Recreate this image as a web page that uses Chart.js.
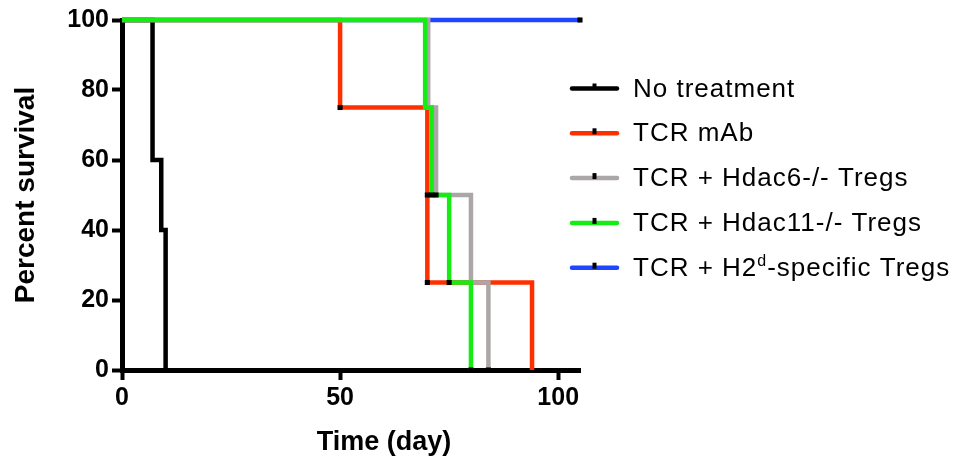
<!DOCTYPE html>
<html>
<head>
<meta charset="utf-8">
<script src="https://cdn.jsdelivr.net/npm/chart.js@4/dist/chart.umd.min.js"></script>
<style>
  html, body { margin: 0; padding: 0; background: #fff; }
  #wrap { width: 969px; height: 461px; }
</style>
</head>
<body>
<div id="wrap"><canvas id="survivalChart" width="969" height="461"></canvas></div>
<script>
// === Data ===
const groupNames = ['No treatment', 'TCR mAb', 'TCR + Hdac6-/- Tregs', 'TCR + Hdac11-/- Tregs', 'TCR + H2d-specific Tregs'];
const groupColors = ['#000000', '#ff3000', '#aba7a7', '#14ec14', '#1e45ff'];

// Kaplan-Meier steps: day of each event and survival after it
const daysNone = [0, 7, 9, 10];
const survNone = [100, 60, 40, 0];
const daysMab = [0, 50, 70, 70, 94];
const survMab = [100, 75, 50, 25, 0];
const daysHdac6 = [0, 70.2, 72, 80, 84];
const survHdac6 = [100, 75, 50, 25, 0];
const daysHdac11 = [0, 69.5, 71, 75, 80];
const survHdac11 = [100, 75, 50, 25, 0];
const daysH2d = [0, 105];
const survH2d = [100, 100];

// tick marks drawn on the curves
const markDays = [50, 70, 70, 72, 84, 71, 75, 80, 105];
const markSurv = [75, 50, 25, 50, 0, 50, 25, 0, 100];

const xTicks = [0, 50, 100];
const yTicks = [0, 20, 40, 60, 80, 100];

const toPoints = (xs, ys) => xs.map((x, i) => ({ x: x, y: ys[i] }));

const allDays = [daysNone, daysMab, daysHdac6, daysHdac11, daysH2d];
const allSurv = [survNone, survMab, survHdac6, survHdac11, survH2d];
// lower order is drawn on top: green over grey over red over black over blue
const drawOrder = [4, 3, 2, 1, 5];

const datasets = groupNames.map((name, i) => ({
    label: name,
    data: toPoints(allDays[i], allSurv[i]),
    borderColor: groupColors[i],
    backgroundColor: groupColors[i],
    borderWidth: 4.5,
    stepped: 'before',
    pointRadius: 0,
    fill: false,
    clip: false,
    order: drawOrder[i]
}));

datasets.push({
    label: 'marks',
    data: toPoints(markDays, markSurv),
    showLine: false,
    pointStyle: 'rect',
    pointRadius: 3.6,
    pointBackgroundColor: '#000',
    pointBorderWidth: 0,
    clip: false,
    order: 0
});

// === Custom x title + legend (positioned off the chart area) ===
const extrasPlugin = {
    id: 'extras',
    afterDraw(chart) {
        const ctx = chart.ctx;
        const area = chart.chartArea;
        ctx.save();

        // x axis title sits a bit right of centre in the reference
        ctx.fillStyle = '#000';
        ctx.font = 'bold 27px "Liberation Sans", Arial, sans-serif';
        ctx.textAlign = 'center';
        ctx.textBaseline = 'alphabetic';
        ctx.fillText('Time (day)', area.left + (area.right - area.left) * 0.572, 450);

        // legend
        const lineX0 = area.right - 8;
        const lineX1 = area.right + 37;
        const textX = area.right + 53;
        const rowY0 = 88.5;
        const rowGap = 44.8;
        ctx.textAlign = 'left';
        ctx.textBaseline = 'middle';
        ctx.letterSpacing = '1px';
        groupNames.forEach((name, i) => {
            const y = rowY0 + i * rowGap;
            ctx.strokeStyle = groupColors[i];
            ctx.lineWidth = 4.5;
            ctx.lineCap = 'round';
            ctx.beginPath();
            ctx.moveTo(lineX0, y);
            ctx.lineTo(lineX1, y);
            ctx.stroke();
            ctx.fillStyle = '#000';
            ctx.fillRect((lineX0 + lineX1) / 2 - 2, y - 5, 4, 6);

            ctx.font = '26px "Liberation Sans", Arial, sans-serif';
            if (name.indexOf('H2d') >= 0) {
                const head = 'TCR + H2';
                const tail = '-specific Tregs';
                ctx.fillText(head, textX, y + 1);
                let w = ctx.measureText(head).width;
                ctx.font = '16px "Liberation Sans", Arial, sans-serif';
                ctx.fillText('d', textX + w, y - 6);
                w += ctx.measureText('d').width;
                ctx.font = '26px "Liberation Sans", Arial, sans-serif';
                ctx.fillText(tail, textX + w, y + 1);
            } else {
                ctx.fillText(name, textX, y + 1);
            }
        });
        ctx.restore();
    }
};

const tickFont = { family: '"Liberation Sans", Arial, sans-serif', size: 25, weight: 'bold' };

window.survivalChart = new Chart(document.getElementById('survivalChart'), {
    type: 'line',
    data: { datasets: datasets },
    options: {
        responsive: false,
        animation: false,
        layout: { padding: { top: 20, right: 389, bottom: 0, left: 0 } },
        plugins: { legend: { display: false }, tooltip: { enabled: false } },
        scales: {
            x: {
                type: 'linear',
                min: 0,
                max: 105,
                afterBuildTicks: (s) => { s.ticks = xTicks.map(v => ({ value: v })); },
                afterFit: (s) => { s.height = 91; },
                border: { display: true, color: '#000', width: 5 },
                grid: { drawOnChartArea: false, drawTicks: true, tickLength: 10, tickWidth: 4, tickColor: '#000' },
                ticks: { color: '#000', font: tickFont, padding: 3, maxRotation: 0 }
            },
            y: {
                type: 'linear',
                min: 0,
                max: 100,
                afterBuildTicks: (s) => { s.ticks = yTicks.map(v => ({ value: v })); },
                afterFit: (s) => { s.width = 122; },
                border: { display: true, color: '#000', width: 5 },
                grid: { drawOnChartArea: false, drawTicks: true, tickLength: 10, tickWidth: 4, tickColor: '#000' },
                ticks: { color: '#000', font: tickFont, padding: 3 },
                title: {
                    display: true,
                    text: 'Percent survival',
                    color: '#000',
                    font: { family: '"Liberation Sans", Arial, sans-serif', size: 28, weight: 'bold' },
                    padding: { top: 9, bottom: 0 }
                }
            }
        }
    },
    plugins: [extrasPlugin]
});
</script>
</body>
</html>
